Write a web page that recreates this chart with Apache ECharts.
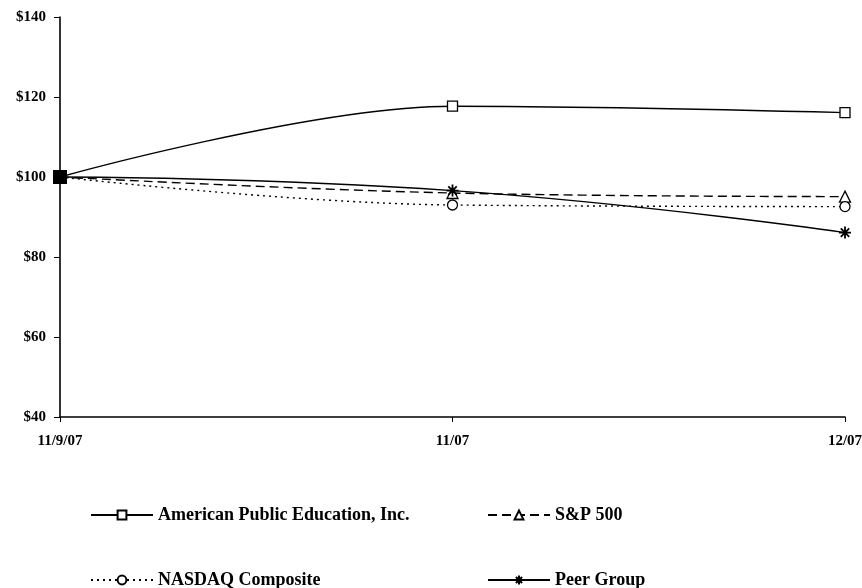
<!DOCTYPE html>
<html><head><meta charset="utf-8">
<script src="https://cdn.jsdelivr.net/npm/echarts@6/dist/echarts.min.js"></script>
<style>html,body{margin:0;padding:0;background:#fff}#c{width:862px;height:588px}</style>
</head><body><div id="c"></div>
<script>
const categories = ['11/9/07', '11/07', '12/07'];
const apei = [100, 117.7, 116.1];
const sp500 = [100, 96.0, 95.1];
const nasdaq = [100, 93.0, 92.6];
const peer = [100, 96.6, 86.1];
const yTicks = [40, 60, 80, 100, 120, 140];

const font = 'Liberation Serif';
const star = 'path://M5,0 L5,10 M0,5 L10,5 M1.5,1.5 L8.5,8.5 M1.5,8.5 L8.5,1.5';
const chart = echarts.init(document.getElementById('c'));

function mk(name, data, symbol, size, lineType, smooth, extra) {
  return Object.assign({
    name, type: 'line', data: data.map((v, i) => i === 0 ? {value: v, symbol: 'rect', symbolSize: 12, itemStyle: {color: '#000', borderColor: '#000'}} : v),
    symbol, symbolSize: size, smooth, showAllSymbol: true,
    lineStyle: {color: '#000', width: 1.4, type: lineType},
    itemStyle: {color: '#fff', borderColor: '#000', borderWidth: 1.3},
    z: 3
  }, extra || {});
}

const legendText = {fontFamily: font, fontWeight: 'bold', fontSize: 18, color: '#000'};
const lg = (name, left, top, w) => ({data: [name], left, top, itemWidth: w, itemHeight: 11, itemGap: 0, padding: 0, textStyle: legendText});
chart.setOption({
  animation: false,
  backgroundColor: '#fff',
  grid: {left: 60, right: 17, top: 17, bottom: 171, outerBoundsMode: 'none', containLabel: false},
  xAxis: {
    type: 'category', data: categories, boundaryGap: false,
    axisLine: {lineStyle: {color: '#000', width: 1.6}},
    axisTick: {show: true, length: 5, lineStyle: {color: '#000'}},
    axisLabel: {fontFamily: font, fontWeight: 'bold', fontSize: 15, color: '#000', margin: 17}
  },
  yAxis: {
    type: 'value', min: 40, max: 140, interval: 20,
    axisLine: {show: true, lineStyle: {color: '#000', width: 1.6}},
    axisTick: {show: true, length: 6, lineStyle: {color: '#000'}},
    splitLine: {show: false},
    axisLabel: {fontFamily: font, fontWeight: 'bold', fontSize: 15, color: '#000', margin: 14,
      formatter: v => yTicks.includes(v) ? '$' + v : ''}
  },
  legend: [
    lg('American Public Education, Inc.', 90, 506, 62),
    lg('S&P 500', 487, 506, 62),
    lg('NASDAQ Composite', 90, 571, 62),
    lg('Peer Group', 487, 571, 62)
  ],
  series: [
    mk('American Public Education, Inc.', apei, 'rect', 10, 'solid', 0.35),
    mk('S&P 500', sp500, 'triangle', 11, [9, 5], 0.4),
    mk('NASDAQ Composite', nasdaq, 'circle', 10, [2, 4], 0.4),
    mk('Peer Group', peer, star, 12, 'solid', 0.5, {itemStyle: {color: 'none', borderColor: '#000', borderWidth: 1.8}})
  ]
});
</script></body></html>
